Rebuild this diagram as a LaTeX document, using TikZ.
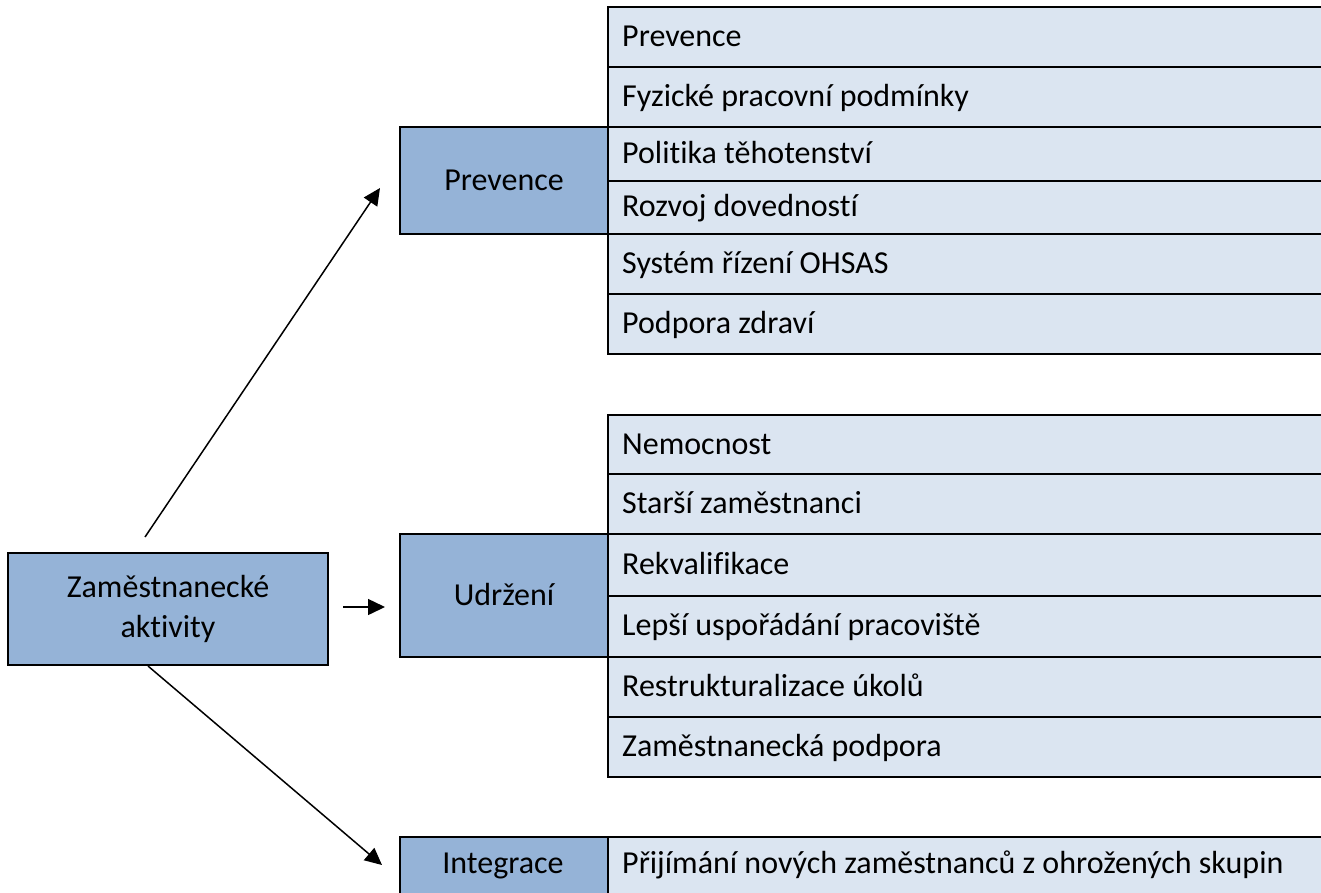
\documentclass[tikz,border=0pt]{standalone}
\usepackage{fontspec}
\setmainfont{Carlito}[Ligatures={NoCommon,NoRare,NoContextual}]
\usetikzlibrary{arrows.meta}
\definecolor{darkfill}{HTML}{95B3D7}
\definecolor{lightfill}{HTML}{DBE5F1}
\begin{document}
\begin{tikzpicture}[x=1pt,y=-1pt,
  every node/.style={font=\fontsize{32}{40}\selectfont},
  rowbox/.style={draw=black, line width=2pt, fill=lightfill, anchor=north west,
    minimum width=740pt, inner sep=0pt},
  rowtext/.style={anchor=west, inner xsep=15pt, inner ysep=0pt,
    text height=19.3pt, text depth=0pt},
  headbox/.style={draw=black, line width=2pt, fill=darkfill, anchor=north west,
    minimum width=208pt, inner sep=0pt, align=center, text height=19.3pt, text depth=0pt},
  conn/.style={line width=1.5pt, -{Triangle[length=17pt,width=16pt]}}
]
\useasboundingbox (0,0) rectangle (1321,892);
\clip (0,0) rectangle (1321,892);
% table 1
\node[rowbox, minimum height=60pt] (p1) at (607,6) {};
\node[rowbox, minimum height=60pt] (p2) at (607,66) {};
\node[rowbox, minimum height=53.5pt] (p3) at (607,126) {};
\node[rowbox, minimum height=53.5pt] (p4) at (607,179.5) {};
\node[rowbox, minimum height=60pt] (p5) at (607,233) {};
\node[rowbox, minimum height=60pt] (p6) at (607,293) {};
\node[rowtext] (p1t) at (p1.west) {Prevence};
\node[rowtext] (p2t) at (p2.west) {Fyzické pracovní podmínky};
\node[rowtext] (p3t) at (p3.west) {Politika těhotenství};
\node[rowtext] (p4t) at (p4.west) {Rozvoj dovedností};
\node[rowtext] (p5t) at (p5.west) {Systém řízení OHSAS};
\node[rowtext] (p6t) at (p6.west) {Podpora zdraví};
% table 2
\node[rowbox, minimum height=59pt] (u1) at (607,414) {};
\node[rowbox, minimum height=60pt] (u2) at (607,473) {};
\node[rowbox, minimum height=61.5pt] (u3) at (607,533) {};
\node[rowbox, minimum height=61.5pt] (u4) at (607,594.5) {};
\node[rowbox, minimum height=60pt] (u5) at (607,656) {};
\node[rowbox, minimum height=60pt] (u6) at (607,716) {};
\node[rowtext] (u1t) at (u1.west) {Nemocnost};
\node[rowtext] (u2t) at (u2.west) {Starší zaměstnanci};
\node[rowtext] (u3t) at (u3.west) {Rekvalifikace};
\node[rowtext] (u4t) at (u4.west) {Lepší uspořádání pracoviště};
\node[rowtext] (u5t) at (u5.west) {Restrukturalizace úkolů};
\node[rowtext] (u6t) at (u6.west) {Zaměstnanecká podpora};
% table 3
\node[rowbox, minimum height=112pt] (i1) at (607,836) {};
\node[rowtext] (i1t) at (607,864) {Přijímání nových zaměstnanců z ohrožených skupin};
% head boxes
\node[headbox, minimum height=107pt] (prev) at (399,126) {Prevence};
\node[headbox, minimum height=123pt] (udr) at (399,533) {Udržení};
\node[headbox, minimum height=112pt] (integ) at (399,836) {};
\node[text height=19.3pt, text depth=0pt, inner sep=0pt] (integt) at (503,864) {Integrace};
\node[draw=black, line width=2pt, fill=darkfill, anchor=north west, minimum width=320pt,
  minimum height=112pt, align=center, inner sep=0pt] (za) at (7,552)
  {Zaměstnanecké\\aktivity};
% connectors
\coordinate (a1s) at (145,537);
\coordinate (a1e) at (380,188);
\coordinate (a2s) at (343,607);
\coordinate (a2e) at (385,607);
\coordinate (a3s) at (148,666);
\coordinate (a3e) at (382,865);
\draw[conn] (a1s) -- (a1e);
\draw[conn] (a2s) -- (a2e);
\draw[conn] (a3s) -- (a3e);
\end{tikzpicture}
\end{document}
